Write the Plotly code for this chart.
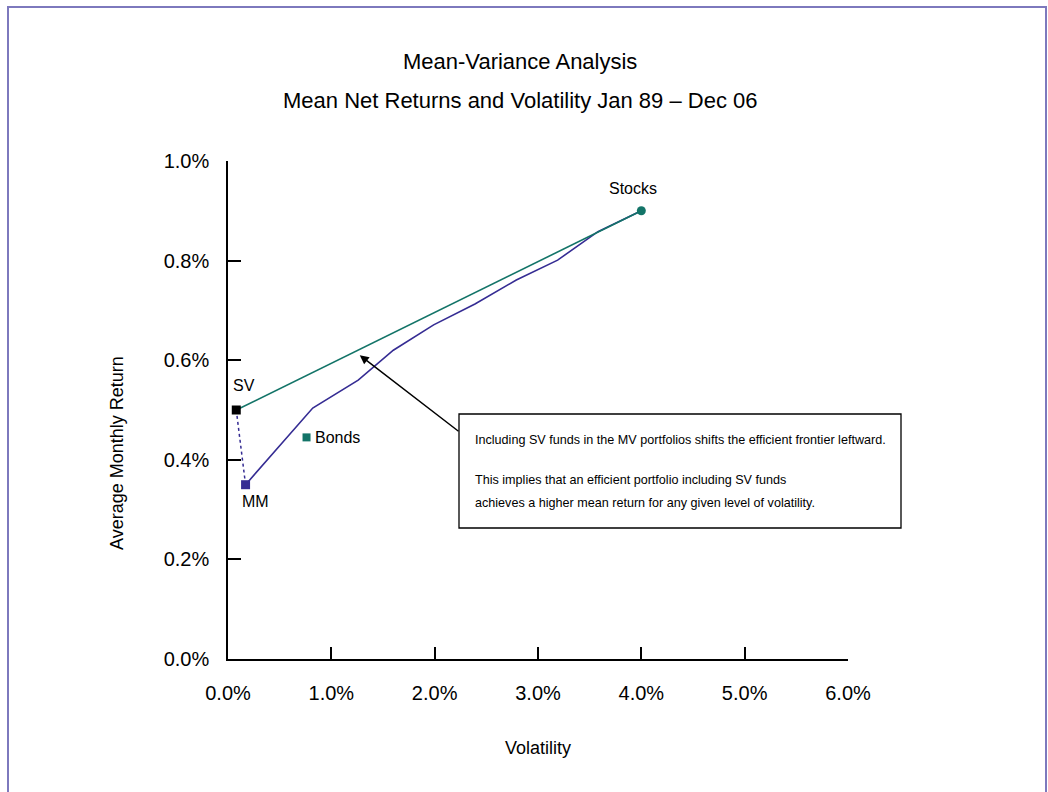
import plotly.graph_objects as go

# Asset points: (volatility %, average monthly return %)
sv_x, sv_y = [0.08], [0.50]
mm_x, mm_y = [0.17], [0.35]
bonds_x, bonds_y = [0.76], [0.445]
stocks_x, stocks_y = [4.00], [0.90]

# Efficient frontier without SV funds (MM -> Stocks)
frontier_x = [0.17, 0.82, 1.26, 1.60, 1.99, 2.39, 2.79, 3.19, 3.58, 4.00]
frontier_y = [0.35, 0.504, 0.56, 0.62, 0.671, 0.713, 0.761, 0.801, 0.858, 0.90]

# Efficient frontier including SV funds (SV -> Stocks)
frontier_sv_x = [0.08, 4.00]
frontier_sv_y = [0.50, 0.90]

x_ticks = [0, 1, 2, 3, 4, 5, 6]
y_ticks = [0.0, 0.2, 0.4, 0.6, 0.8, 1.0]

FONT = "Liberation Sans, Arial, sans-serif"
TEAL = "#137468"
PURPLE = "#352c93"
FRAME = "#7d79bd"

W, H = 1048, 792
L, R, T, B = 228, 848, 161, 659  # plot area in pixels


def px(x):
    return (x - L) / (R - L)


def py(y):
    return (B - y) / (B - T)


fig = go.Figure()

fig.add_trace(go.Scatter(x=sv_x + mm_x, y=sv_y + mm_y, mode="lines",
                         line=dict(color=PURPLE, width=1.5, dash="dot"),
                         hoverinfo="skip", cliponaxis=False))
fig.add_trace(go.Scatter(x=frontier_x, y=frontier_y, mode="lines",
                         line=dict(color=PURPLE, width=1.6), cliponaxis=False))
fig.add_trace(go.Scatter(x=frontier_sv_x, y=frontier_sv_y, mode="lines",
                         line=dict(color=TEAL, width=1.6), cliponaxis=False))
fig.add_trace(go.Scatter(x=sv_x, y=sv_y, mode="markers",
                         marker=dict(symbol="square", size=9, color="black"),
                         cliponaxis=False))
fig.add_trace(go.Scatter(x=mm_x, y=mm_y, mode="markers",
                         marker=dict(symbol="square", size=9, color=PURPLE),
                         cliponaxis=False))
fig.add_trace(go.Scatter(x=bonds_x, y=bonds_y, mode="markers",
                         marker=dict(symbol="square", size=8, color=TEAL),
                         cliponaxis=False))
fig.add_trace(go.Scatter(x=stocks_x, y=stocks_y, mode="markers",
                         marker=dict(symbol="circle", size=9, color=TEAL),
                         cliponaxis=False))

lab = dict(family=FONT, size=16, color="black")
fig.add_annotation(x=stocks_x[0], y=stocks_y[0], text="Stocks", showarrow=False,
                   yanchor="bottom", xanchor="center", xshift=-8, yshift=12, font=lab)
fig.add_annotation(x=sv_x[0], y=sv_y[0], text="SV", showarrow=False,
                   yanchor="bottom", xanchor="center", xshift=8, yshift=14, font=lab)
fig.add_annotation(x=mm_x[0], y=mm_y[0], text="MM", showarrow=False,
                   yanchor="top", xanchor="center", xshift=10, yshift=-6, font=lab)
fig.add_annotation(x=bonds_x[0], y=bonds_y[0], text="Bonds", showarrow=False,
                   yanchor="middle", xanchor="left", xshift=6, font=lab)

# Callout arrow pointing at the SV frontier
fig.add_annotation(x=1.275, y=0.61, ax=2.245, ay=0.455, axref="x", ayref="y",
                   xref="x", yref="y", text="", showarrow=True,
                   arrowhead=2, arrowsize=1.2, arrowwidth=1.5, arrowcolor="black")

# Callout box
fig.add_shape(type="rect", xref="paper", yref="paper",
              x0=px(459), x1=px(901), y0=py(528), y1=py(414),
              line=dict(color="black", width=1.3), fillcolor="white")
box_font = dict(family=FONT, size=12.6, color="black")
box_lines = [
    ("Including SV funds in the MV portfolios shifts the efficient frontier leftward.", 440),
    ("This implies that an efficient portfolio including SV funds", 480),
    ("achieves a higher mean return for any given level of volatility.", 503),
]
for txt, ypix in box_lines:
    fig.add_annotation(xref="paper", yref="paper", x=px(473), y=py(ypix),
                       xanchor="left", yanchor="middle", text=txt,
                       showarrow=False, font=box_font)

# Title
title_font = dict(family=FONT, size=22, color="black")
fig.add_annotation(xref="paper", yref="paper", x=px(520), y=py(62),
                   text="Mean-Variance Analysis", showarrow=False,
                   xanchor="center", yanchor="middle", font=title_font)
fig.add_annotation(xref="paper", yref="paper", x=px(520), y=py(100),
                   text="Mean Net Returns and Volatility Jan 89 \u2013 Dec 06",
                   showarrow=False, xanchor="center", yanchor="middle", font=title_font)

# Axis titles
ax_font = dict(family=FONT, size=18, color="black")
fig.add_annotation(xref="paper", yref="paper", x=px(538), y=py(748),
                   text="Volatility", showarrow=False,
                   xanchor="center", yanchor="middle", font=ax_font)
fig.add_annotation(xref="paper", yref="paper", x=px(117), y=py(453),
                   text="Average Monthly Return", showarrow=False, textangle=-90,
                   xanchor="center", yanchor="middle", font=ax_font)

# Outer frame
fig.add_shape(type="rect", xref="paper", yref="paper",
              x0=px(8), x1=px(1046), y0=py(900), y1=py(7),
              line=dict(color=FRAME, width=2), fillcolor="rgba(0,0,0,0)", layer="below")

tick_font = dict(family=FONT, size=20, color="black")
fig.update_layout(
    width=W, height=H,
    margin=dict(l=L, r=W - R, t=T, b=H - B),
    paper_bgcolor="white", plot_bgcolor="white",
    showlegend=False,
    xaxis=dict(range=[0, 6], tickvals=x_ticks,
               ticktext=[f"{v:.1f}%" for v in x_ticks],
               showgrid=False, zeroline=False, showline=True,
               linecolor="black", linewidth=1.5,
               ticks="inside", ticklen=12, tickwidth=1.5, tickcolor="black",
               tickfont=tick_font, ticklabelstandoff=15),
    yaxis=dict(range=[0, 1], tickvals=y_ticks,
               ticktext=[f"{v:.1f}%" for v in y_ticks],
               showgrid=False, zeroline=False, showline=True,
               linecolor="black", linewidth=1.5,
               ticks="inside", ticklen=13, tickwidth=1.5, tickcolor="black",
               tickfont=tick_font, ticklabelstandoff=13),
)

fig.write_html("out.html")
